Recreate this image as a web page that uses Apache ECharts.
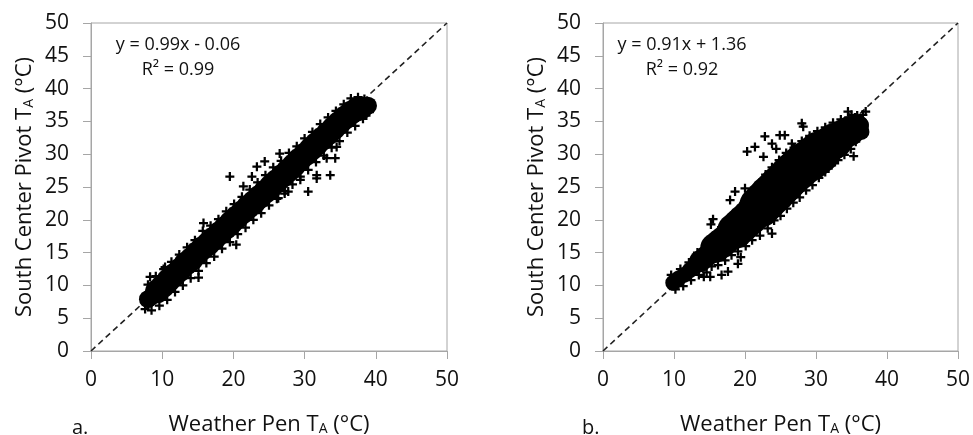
<!DOCTYPE html>
<html><head><meta charset="utf-8">
<script src="https://cdn.jsdelivr.net/npm/echarts/dist/echarts.min.js"></script>
<style>html,body{margin:0;padding:0;background:#fff}#c{width:973px;height:435px}</style>
</head><body><div id="c"></div>
<script>
// ---- tick labels ----
const xTicks = [0, 10, 20, 30, 40, 50];
const yTicks = [0, 5, 10, 15, 20, 25, 30, 35, 40, 45, 50];
// ---- 1:1 reference line ----
const oneToOne = [[0, 0], [50, 50]];
// ---- panel a: dense cloud core (thin ends / body), cloud edges, outliers ----
const coreAends = [[8.0,7.9],[8.6,8.4],[38.3,37.2],[38.9,37.4]];
const coreAbody = [[9.3,9.1],[10.1,9.9],[10.9,10.8],[11.7,11.6],[12.5,12.4],[13.3,13.3],[14.1,14.0],[14.9,14.9],[15.7,15.7],[16.5,16.4],[17.3,17.2],[18.1,18.0],[18.9,18.8],[19.7,19.6],[20.5,20.4],[21.3,21.2],[22.1,22.0],[22.9,22.7],[23.7,23.5],[24.5,24.3],[25.3,25.1],[26.1,25.9],[26.9,26.7],[27.7,27.5],[28.5,28.3],[29.3,29.2],[30.1,30.0],[30.9,30.8],[31.7,31.6],[32.5,32.4],[33.3,33.2],[34.1,34.0],[34.9,34.8],[35.7,35.6],[36.5,36.3],[37.3,36.8],[37.8,37.0]];
const edgeA = [[8.0,10.1],[9.1,11.4],[10.2,12.5],[11.3,13.6],[12.4,14.7],[13.5,15.8],[14.6,16.9],[15.7,18.3],[16.8,19.1],[17.9,20.1],[19.0,21.3],[20.1,22.4],[21.2,23.5],[22.3,24.6],[23.4,25.7],[24.5,26.8],[25.6,28.0],[26.7,29.0],[27.8,30.2],[28.9,31.2],[30.0,32.4],[31.1,33.4],[32.2,34.6],[33.3,35.6],[34.4,36.6],[35.5,37.6],[36.5,38.5],[37.5,38.7],[38.4,38.4],
  [7.6,6.4],[8.5,6.2],[9.6,6.9],[10.7,7.8],[11.8,9.0],[12.9,10.0],[14.0,11.1],[15.1,12.2],[16.2,13.4],[17.3,14.4],[18.4,15.6],[19.5,16.6],[20.6,17.8],[21.7,18.8],[22.8,20.0],[23.9,21.0],[25.0,22.2],[26.1,23.2],[27.2,24.4],[28.3,25.4],[29.4,26.6],[30.5,27.6],[31.6,28.8],[32.7,29.8],[33.8,31.0],[34.9,32.0],[36.0,33.3],[37.1,34.3],[38.2,35.4],[39.1,36.4],[39.4,37.4]];
const outA = [[8.3,11.3],[10.4,12.8],[15.1,11.2],[15.8,19.5],[19.5,26.6],[20.4,16.2],[21.4,25.1],[22.6,26.6],[23.3,28.1],[24.4,28.9],[26.5,30.1],[26.3,23.3],[27.2,24.0],[27.7,24.3],[29.4,26.1],[30.5,24.3],[31.7,26.3],[31.7,26.8],[33.6,26.8],[33.1,29.4],[34.3,29.4],[34.5,31.1]];
// ---- panel b: cloud core from thin tail to wide middle, edges, outliers ----
const coreB1 = [[9.9,10.4],[10.6,11.0],[11.4,11.6],[12.2,12.3],[13.0,12.9],[36.3,34.5],[36.4,33.4]];
const coreB2 = [[13.7,13.7],[14.4,14.3],[15.1,14.9],[35.3,33.9],[35.9,34.3]];
const coreB3 = [[15.8,15.7],[16.5,16.3],[17.2,16.9],[17.9,17.6],[33.3,32.6],[34.0,33.1],[34.7,33.5]];
const coreB4 = [[18.6,18.3],[19.3,19.0],[20.0,19.7],[20.7,20.4],[21.4,21.2],[31.2,30.9],[31.9,31.5],[32.6,32.0]];
const coreB5 = [[22.1,22.0],[22.8,22.8],[23.5,23.6],[24.2,24.3],[24.9,25.1],[25.6,25.8],[26.3,26.6],[27.0,27.3],[27.7,28.0],[28.4,28.6],[29.1,29.1],[29.8,29.7],[30.5,30.3]];
const edgeB = [[10.2,9.4],[11.3,9.9],[12.4,10.8],[13.5,11.6],[14.6,12.0],[15.3,12.9],[16.2,13.1],[17.2,13.8],[18.1,14.6],[19.0,15.2],[20.1,16.0],[21.0,16.9],[22.1,17.6],[23.2,18.7],[24.1,19.9],[25.0,20.6],[25.9,21.7],[26.8,22.6],[27.7,23.4],[28.6,24.5],[29.5,25.3],[30.4,26.4],[31.3,27.3],[32.2,28.3],[33.1,29.1],[34.0,29.9],[34.9,30.8],[35.6,31.9],[36.2,32.9],
  [9.6,11.6],[10.9,12.5],[12.1,13.5],[13.3,15.0],[14.5,16.1],[15.6,17.6],[16.7,18.9],[17.8,20.2],[18.9,21.4],[20.0,22.8],[21.0,24.1],[22.0,25.6],[22.9,26.9],[23.8,28.0],[24.8,29.1],[25.8,30.2],[26.9,31.0],[28.0,32.0],[29.1,32.8],[30.2,33.5],[31.3,34.1],[32.4,34.8],[33.5,35.3],[34.6,35.6],[35.0,36.0],[35.5,35.6],[35.8,35.9],[36.2,35.0],[36.4,34.0]];
const outB = [[17.9,23.0],[18.6,24.3],[20.0,24.8],[15.5,20.1],[15.2,19.3],[20.3,30.4],[21.4,31.1],[22.8,32.7],[22.6,29.6],[23.8,31.6],[24.9,32.9],[25.6,32.9],[24.4,30.8],[26.6,31.6],[28.0,34.7],[28.2,34.2],[34.5,36.5],[36.6,36.0],[37.0,36.5],[14.2,11.3],[15.1,11.3],[16.7,11.6],[17.6,12.1],[19.0,13.3],[19.4,14.3],[23.8,17.9],[35.3,29.7]];
// ---- annotations ----
const eqA = ['y = 0.99x - 0.06', 'R\u00b2 = 0.99'];
const eqB = ['y = 0.91x + 1.36', 'R\u00b2 = 0.92'];
const panelLabels = ['a.', 'b.'];
const xTitle = 'Weather Pen T{sub|A} (\u00b0C)';
const yTitle = 'South Center Pivot T{sub|A} (\u00b0C)';

const FONT = 'Open Sans';
const PLUS = 'path://M3,0L5,0L5,3L8,3L8,5L5,5L5,8L3,8L3,5L0,5L0,3L3,3Z';
const AX = '#a6a6a6';
const TXT = '#111';
const rich = { sub: { fontSize: 14, fontFamily: FONT, color: TXT, padding: [9, 0, 0, 0] } };

function xAxis(i) {
  return { gridIndex: i, type: 'value', min: xTicks[0], max: xTicks[xTicks.length - 1], interval: xTicks[1] - xTicks[0],
    name: xTitle, nameLocation: 'middle', nameGap: 62,
    nameTextStyle: { fontFamily: FONT, fontSize: 22, color: TXT, rich: rich },
    axisLine: { show: true, lineStyle: { color: AX, width: 1 } },
    axisTick: { show: true, length: 8, lineStyle: { color: AX } },
    axisLabel: { fontFamily: FONT, fontSize: 21, color: TXT, margin: 19 },
    splitLine: { show: false } };
}
function yAxis(i) {
  return { gridIndex: i, type: 'value', min: yTicks[0], max: yTicks[yTicks.length - 1], interval: yTicks[1] - yTicks[0],
    name: yTitle, nameLocation: 'middle', nameGap: 55, nameRotate: 90,
    nameTextStyle: { fontFamily: FONT, fontSize: 22, color: TXT, rich: rich },
    axisLine: { show: true, lineStyle: { color: AX, width: 1 } },
    axisTick: { show: true, length: 8, lineStyle: { color: AX } },
    axisLabel: { fontFamily: FONT, fontSize: 21, color: TXT, margin: 22 },
    splitLine: { show: false } };
}
function line(i) {
  return { type: 'line', xAxisIndex: i, yAxisIndex: i, data: oneToOne, symbol: 'none', silent: true, z: 1,
    lineStyle: { color: '#222', width: 1.6, type: [6, 4] } };
}
function sc(i, data, symbol, size) {
  return { type: 'scatter', xAxisIndex: i, yAxisIndex: i, data: data, symbol: symbol, symbolSize: size, z: 3,
    itemStyle: { color: '#000', opacity: 1 } };
}
function eqText(lines, cx) {
  return [
    { type: 'text', x: cx, y: 45, style: { text: lines[0], font: '18px "' + FONT + '"', fill: TXT, align: 'center', verticalAlign: 'middle' } },
    { type: 'text', x: cx, y: 70, style: { text: lines[1], font: '18px "' + FONT + '"', fill: TXT, align: 'center', verticalAlign: 'middle' } }
  ];
}

const chart = echarts.init(document.getElementById('c'), null, { renderer: 'canvas' });
chart.setOption({
  animation: false,
  backgroundColor: '#fff',
  grid: [
    { left: 91, top: 23, width: 356, height: 328, show: true, borderColor: AX, borderWidth: 1, containLabel: false, outerBoundsMode: 'none' },
    { left: 603, top: 23, width: 355, height: 328, show: true, borderColor: AX, borderWidth: 1, containLabel: false, outerBoundsMode: 'none' }
  ],
  xAxis: [xAxis(0), xAxis(1)],
  yAxis: [yAxis(0), yAxis(1)],
  series: [
    line(0),
    sc(0, coreAends, 'circle', 18),
    sc(0, coreAbody, 'circle', 24),
    sc(0, edgeA, PLUS, 9),
    sc(0, outA, PLUS, 9),
    line(1),
    sc(1, coreB1, 'circle', 16),
    sc(1, coreB2, 'circle', 22),
    sc(1, coreB3, 'circle', 30),
    sc(1, coreB4, 'circle', 36),
    sc(1, coreB5, 'circle', 42),
    sc(1, edgeB, PLUS, 9),
    sc(1, outB, PLUS, 9)
  ],
  graphic: [].concat(
    eqText(eqA, 178), eqText(eqB, 682),
    [{ type: 'text', x: 72, y: 428, style: { text: panelLabels[0], font: '20px "' + FONT + '"', fill: TXT, verticalAlign: 'middle' } },
     { type: 'text', x: 582, y: 428, style: { text: panelLabels[1], font: '20px "' + FONT + '"', fill: TXT, verticalAlign: 'middle' } }]
  )
});
</script>
</body></html>
